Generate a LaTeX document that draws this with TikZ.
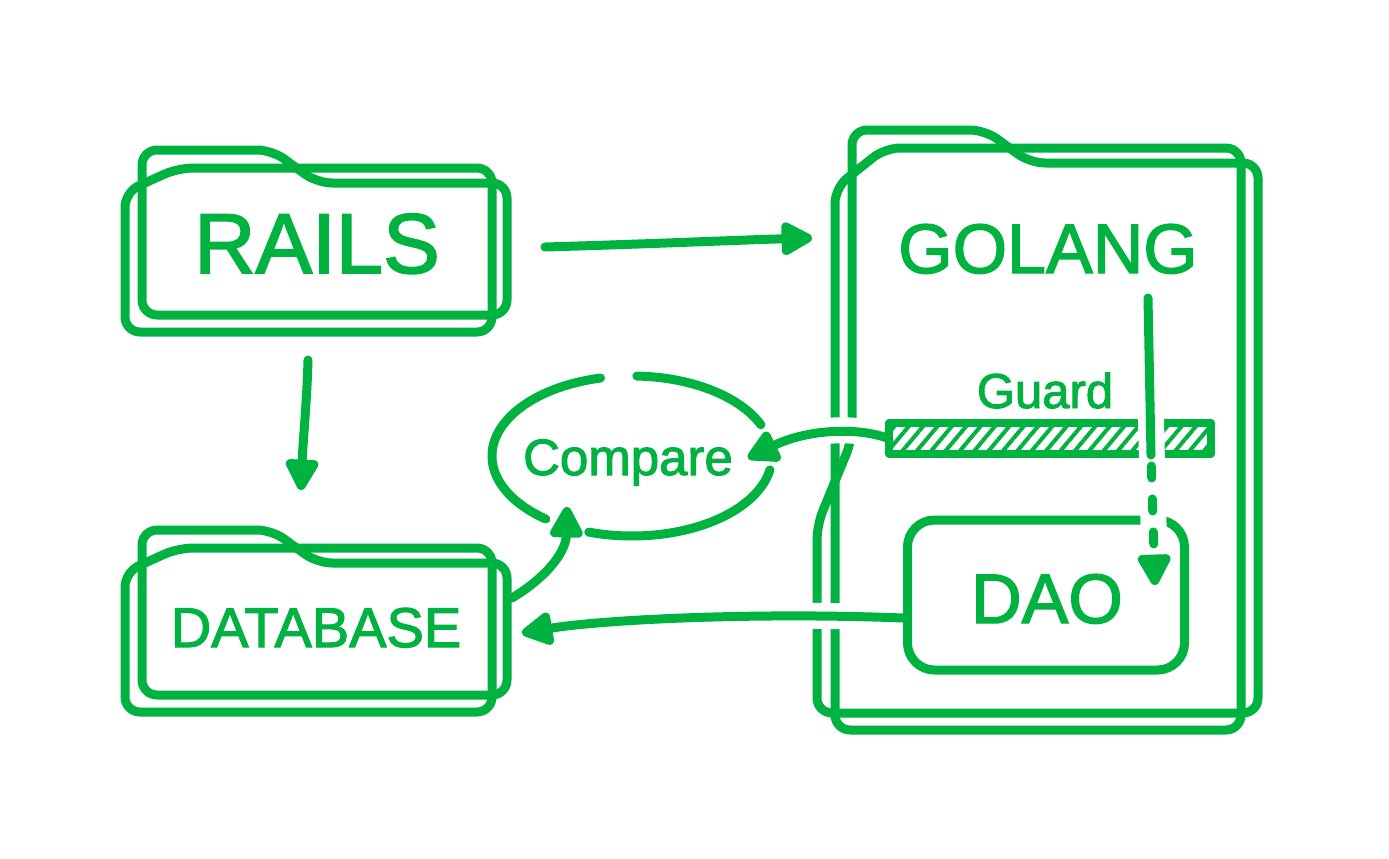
\documentclass[tikz,border=0pt]{standalone}
\usepackage{fontspec}
\setmainfont{Liberation Sans}
\newfontfamily\lblfont{Liberation Sans}[FakeBold=2]
\usetikzlibrary{arrows.meta,patterns.meta}
\definecolor{grn}{RGB}{0,178,64}
\begin{document}
\begin{tikzpicture}[x=1pt,y=-1pt,
  ln/.style={draw=grn,line width=9pt,line cap=round,line join=round},
  fold/.style={ln,rounded corners=15pt},
  conn/.style={ln,-{Triangle[length=36pt,width=36pt,round]}},
  halo/.style={draw=white,line width=26pt},
  lbl/.style={text=grn,inner sep=0pt,anchor=base},
  folder/.pic={
    \draw[fold] (142,315) -- (142,150) -- (272,150) -- (317,183) -- (507,183) -- (507,315) -- cycle;
    \draw[fold] (125,332) -- (125,192) -- (178,168) -- (492,168) -- (492,332) -- cycle;
  }]
\fill[white] (0,0) rectangle (1389,859);
\useasboundingbox (0,0) rectangle (1389,859);

% folders
\pic at (0,0) {folder};
\pic at (0,380) {folder};
\draw[fold] (817,713) -- (817,525) -- (852,440) -- (852,130) -- (985,130) -- (1030,163) -- (1258,163) -- (1258,713) -- cycle;
\draw[fold] (835,730) -- (835,188) -- (885,148) -- (1241,148) -- (1241,730) -- cycle;

% DAO box and guard bar
\node[ln,rounded corners=27pt,minimum width=277pt,minimum height=150pt,inner sep=0pt] (daobox) at (1046,595) {};
\node[draw=grn,line width=8pt,line join=round,pattern={Lines[angle=50,distance=11pt,line width=4pt]},pattern color=grn,minimum width=322pt,minimum height=31pt,inner sep=0pt] (bar) at (1050,438) {};

% texts
\node[lbl,font=\lblfont\fontsize{85}{85}\selectfont] (rails) at (317,273) {RAILS};
\node[lbl,font=\lblfont\fontsize{70}{70}\selectfont] (golang) at (1048,273) {GOLANG};
\node[lbl,font=\lblfont\fontsize{49}{49}\selectfont] (guard) at (1045,408) {Guard};
\node[lbl,font=\lblfont\fontsize{51}{51}\selectfont] (compare) at (628,475) {Compare};
\node[lbl,font=\lblfont\fontsize{56}{56}\selectfont] (database) at (316,647) {DATABASE};
\node[lbl,font=\lblfont\fontsize{70}{70}\selectfont] (dao) at (1047,623) {DAO};

% compare ellipse (hand drawn, with gaps)
\coordinate (cmp) at (632,456);
\draw[ln] (cmp) ++(257:140 and 80) arc[start angle=257,end angle=128,x radius=140,y radius=80];
\draw[ln] (cmp) ++(108:140 and 80) arc[start angle=108,end angle=10,x radius=140,y radius=80];
\draw[ln] (cmp) ++(-23:140 and 80) arc[start angle=-23,end angle=-88,x radius=140,y radius=80];

% connector end points
\coordinate (rgS) at (545,247); \coordinate (rgE) at (812,238);
\coordinate (rdS) at (308,360); \coordinate (rdE) at (301,490);
\coordinate (dcS) at (512,598); \coordinate (dcE) at (567,507);
\coordinate (gcE) at (748,458);
\coordinate (ddS) at ([yshift=-23pt]daobox.west); \coordinate (ddE) at (522,633);
\coordinate (gdS) at (1148,298); \coordinate (gdM) at (1151,455); \coordinate (gdE) at (1155,585);

% halos where connectors cross lines
\draw[halo,shorten <=8pt,shorten >=40pt] (bar.west) .. controls (860,428) and (810,428) .. (gcE);
\draw[halo,shorten <=8pt,shorten >=60pt] (ddS) .. controls (750,612) and (600,620) .. (ddE);
\draw[halo] (gdS) -- (gdE);

% connectors
\draw[conn] (rgS) .. controls (650,244) and (740,240) .. (rgE);
\draw[conn] (rdS) .. controls (307,400) and (303,440) .. (rdE);
\draw[conn] (dcS) .. controls (550,575) and (566,550) .. (dcE);
\draw[conn] (bar.west) .. controls (860,428) and (810,428) .. (gcE);
\draw[conn] (ddS) .. controls (750,612) and (600,620) .. (ddE);
\draw[ln] (gdS) -- (gdM);
\draw[conn,dash pattern=on 12pt off 21pt,dash phase=22pt] (gdM) -- (gdE);
\end{tikzpicture}
\end{document}
